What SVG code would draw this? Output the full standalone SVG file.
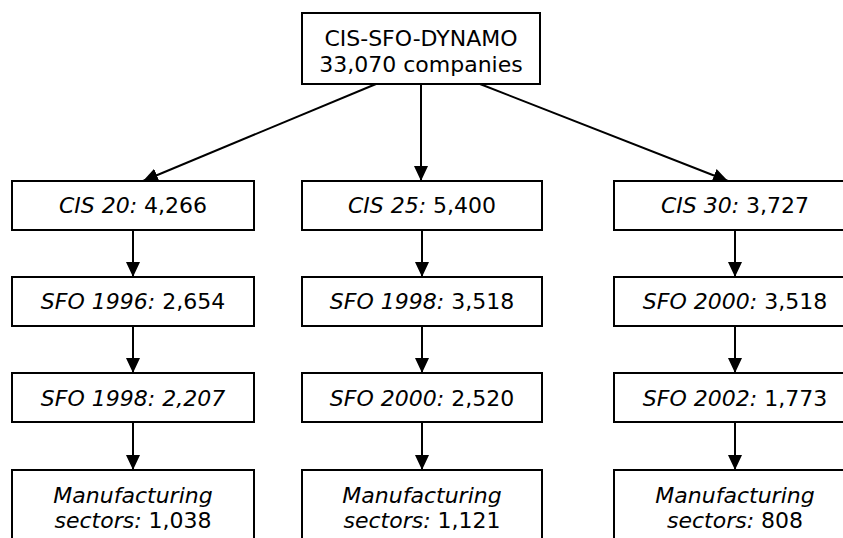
<svg xmlns="http://www.w3.org/2000/svg" width="843" height="538" viewBox="0 0 843 538">
<style>
.box{fill:#fff;stroke:#000;stroke-width:2}
.t{font-family:"DejaVu Sans",Verdana,sans-serif;font-size:22px;fill:#000;text-anchor:middle}
.i{font-style:italic}
.c{stroke:#000;stroke-width:2;fill:none;marker-end:url(#ah)}
</style>
<defs>
<marker id="ah" markerUnits="userSpaceOnUse" markerWidth="16" markerHeight="16" viewBox="0 0 16 16" refX="15" refY="7" orient="auto">
<path d="M0,0 L15,7 L0,14 Z" fill="#000"/>
</marker>
</defs>
<g id="connectors">
<line class="c" x1="376" y1="84" x2="143" y2="181"/>
<line class="c" x1="421" y1="84" x2="421" y2="181"/>
<line class="c" x1="480" y1="84" x2="728" y2="181"/>
<line class="c" x1="133" y1="230" x2="133" y2="277"/>
<line class="c" x1="133" y1="326" x2="133" y2="373"/>
<line class="c" x1="133" y1="422" x2="133" y2="470"/>
<line class="c" x1="422" y1="230" x2="422" y2="277"/>
<line class="c" x1="422" y1="326" x2="422" y2="373"/>
<line class="c" x1="422" y1="422" x2="422" y2="470"/>
<line class="c" x1="735" y1="230" x2="735" y2="277"/>
<line class="c" x1="735" y1="326" x2="735" y2="373"/>
<line class="c" x1="735" y1="422" x2="735" y2="470"/>
</g>
<g id="root">
<rect class="box" x="302" y="13" width="238" height="71"/>
<text class="t" x="421" y="46">CIS-SFO-DYNAMO</text>
<text class="t" x="421" y="72">33,070 companies</text>
</g>
<g id="cis20">
<rect class="box" x="12" y="181" width="242" height="49"/>
<text class="t" x="133" y="213"><tspan class="i">CIS 20:</tspan> 4,266</text>
</g>
<g id="cis25">
<rect class="box" x="302" y="181" width="240" height="49"/>
<text class="t" x="422" y="213"><tspan class="i">CIS 25:</tspan> 5,400</text>
</g>
<g id="cis30">
<rect class="box" x="614" y="181" width="242" height="49"/>
<text class="t" x="735" y="213"><tspan class="i">CIS 30:</tspan> 3,727</text>
</g>
<g id="sfo1996a">
<rect class="box" x="12" y="277" width="242" height="49"/>
<text class="t" x="133" y="309"><tspan class="i">SFO 1996:</tspan> 2,654</text>
</g>
<g id="sfo1998b">
<rect class="box" x="302" y="277" width="240" height="49"/>
<text class="t" x="422" y="309"><tspan class="i">SFO 1998:</tspan> 3,518</text>
</g>
<g id="sfo2000c">
<rect class="box" x="614" y="277" width="242" height="49"/>
<text class="t" x="735" y="309"><tspan class="i">SFO 2000:</tspan> 3,518</text>
</g>
<g id="sfo1998a">
<rect class="box" x="12" y="373" width="242" height="49"/>
<text class="t i" x="133" y="406">SFO 1998: 2,207</text>
</g>
<g id="sfo2000b">
<rect class="box" x="302" y="373" width="240" height="49"/>
<text class="t" x="422" y="406"><tspan class="i">SFO 2000:</tspan> 2,520</text>
</g>
<g id="sfo2002c">
<rect class="box" x="614" y="373" width="242" height="49"/>
<text class="t" x="735" y="406"><tspan class="i">SFO 2002:</tspan> 1,773</text>
</g>
<g id="manuf-a">
<rect class="box" x="12" y="470" width="242" height="90"/>
<text class="t i" x="133" y="503">Manufacturing</text>
<text class="t" x="133" y="528"><tspan class="i">sectors:</tspan> 1,038</text>
</g>
<g id="manuf-b">
<rect class="box" x="302" y="470" width="240" height="90"/>
<text class="t i" x="422" y="503">Manufacturing</text>
<text class="t" x="422" y="528"><tspan class="i">sectors:</tspan> 1,121</text>
</g>
<g id="manuf-c">
<rect class="box" x="614" y="470" width="242" height="90"/>
<text class="t i" x="735" y="503">Manufacturing</text>
<text class="t" x="735" y="528"><tspan class="i">sectors:</tspan> 808</text>
</g>
</svg>
